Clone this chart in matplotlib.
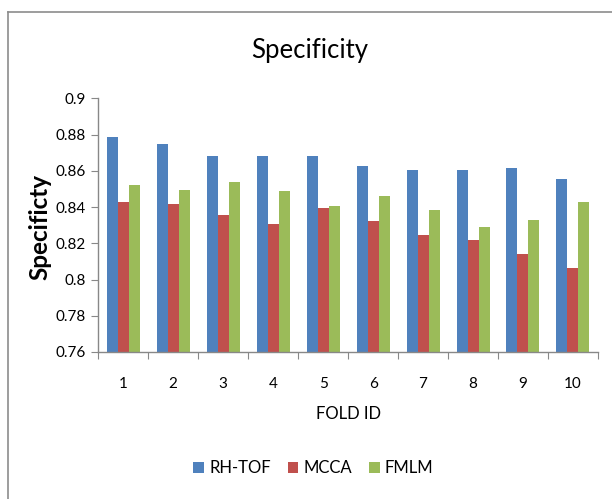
import matplotlib
matplotlib.use("Agg")
import matplotlib.pyplot as plt
import numpy as np
from matplotlib.patches import Patch
from matplotlib.lines import Line2D
from matplotlib.ticker import FuncFormatter, FixedLocator

plt.rcParams['font.family'] = ['Lato', 'DejaVu Sans']

folds = ['1', '2', '3', '4', '5', '6', '7', '8', '9', '10']
rh_tof = [0.8786, 0.8746, 0.8683, 0.8683, 0.8683, 0.8624, 0.8606, 0.8606, 0.8613, 0.8554]
mcca = [0.8425, 0.8418, 0.8357, 0.8306, 0.8392, 0.8322, 0.8245, 0.8219, 0.8141, 0.8064]
fmlm = [0.8519, 0.8495, 0.8538, 0.8486, 0.8407, 0.8459, 0.8383, 0.8289, 0.8331, 0.8425]
series_names = ['RH-TOF', 'MCCA', 'FMLM']
colors = ['#4F81BD', '#C0504D', '#9BBB59']

fig = plt.figure(figsize=(6.12, 4.99), dpi=100)
ax = fig.add_axes([0.1606, 0.2946, 0.8164, 0.5084])

x = np.arange(len(folds))
w = 0.22
for i, (vals, c) in enumerate(zip([rh_tof, mcca, fmlm], colors)):
    ax.bar(x + (i - 1) * w, vals, width=w, color=c, edgecolor='none', zorder=2)

ax.set_ylim(0.76, 0.9)
ax.set_xlim(-0.5, len(folds) - 0.5)
ax.set_yticks(np.arange(0.76, 0.9001, 0.02))
ax.yaxis.set_major_formatter(FuncFormatter(lambda v, p: '%g' % round(v, 2)))

ax.xaxis.set_major_locator(FixedLocator(np.arange(-0.5, len(folds), 1.0)))
ax.xaxis.set_minor_locator(FixedLocator(x))
ax.set_xticklabels([''] * (len(folds) + 1))
ax.set_xticklabels(folds, minor=True)
ax.tick_params(axis='x', which='major', length=5, direction='out', color='#888888')
ax.tick_params(axis='x', which='minor', length=0, pad=18, labelsize=11)
ax.tick_params(axis='y', length=5, direction='out', color='#888888', labelsize=11, pad=4)

for s in ['top', 'right']:
    ax.spines[s].set_visible(False)
for s in ['left', 'bottom']:
    ax.spines[s].set_color('#888888')
    ax.spines[s].set_linewidth(1.0)

fig.text(0.506, 0.898, 'Specificity', ha='center', va='center', fontsize=18.5)
ax.set_xlabel('FOLD ID', fontsize=12, labelpad=11)
fig.text(0.066, 0.545, 'Specificty', rotation=90, ha='center', va='center',
         fontsize=17.5, fontweight='bold')

handles = [Patch(facecolor=c, edgecolor='none') for c in colors]
fig.legend(handles, series_names, loc='center', bbox_to_anchor=(0.512, 0.062),
           ncol=3, frameon=False, fontsize=12, handlelength=0.65, handleheight=0.65,
           handletextpad=0.3, columnspacing=1.0)

fig.add_artist(Line2D([7.7 / 612, 7.7 / 612], [0, 1 - 11.7 / 499], transform=fig.transFigure,
                      color='#8c8c8c', linewidth=1.2))
fig.add_artist(Line2D([7.7 / 612, 1], [1 - 11.7 / 499, 1 - 11.7 / 499], transform=fig.transFigure,
                      color='#8c8c8c', linewidth=1.2))

fig.savefig('out.png', dpi=100)
